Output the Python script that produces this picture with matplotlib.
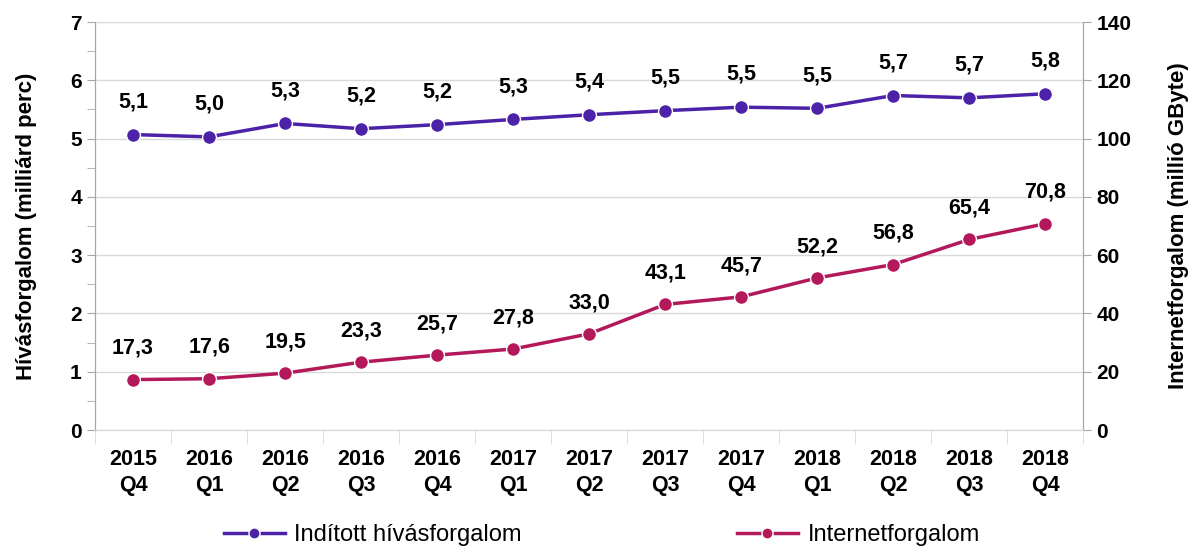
import numpy as np
import matplotlib
matplotlib.use('Agg')
import matplotlib.pyplot as plt
from matplotlib.ticker import MultipleLocator

plt.rcParams['font.family'] = ['Liberation Sans', 'DejaVu Sans']

quarters = ['2015\nQ4', '2016\nQ1', '2016\nQ2', '2016\nQ3', '2016\nQ4', '2017\nQ1', '2017\nQ2',
            '2017\nQ3', '2017\nQ4', '2018\nQ1', '2018\nQ2', '2018\nQ3', '2018\nQ4']
hivas = [5.07, 5.03, 5.26, 5.17, 5.24, 5.33, 5.41, 5.48, 5.54, 5.52, 5.74, 5.70, 5.77]
internet = [17.3, 17.6, 19.5, 23.3, 25.7, 27.8, 33.0, 43.1, 45.7, 52.2, 56.8, 65.4, 70.8]

purple = '#4B22A8'
magenta = '#B3195A'
grey = '#A6A6A6'

fig = plt.figure(figsize=(11.97, 5.52), dpi=100)
ax = fig.add_axes([0.0794, 0.221, 0.8256, 0.739])
ax2 = ax.twinx()

x = np.arange(len(quarters))
l1, = ax.plot(x, hivas, '-o', color=purple, lw=2.5, ms=10, markeredgecolor='white',
              markeredgewidth=1, label='Indított hívásforgalom', zorder=3)
l2, = ax2.plot(x, internet, '-o', color=magenta, lw=2.5, ms=10, markeredgecolor='white',
               markeredgewidth=1, label='Internetforgalom', zorder=3)

for xi, v in zip(x, hivas):
    ax.annotate(f'{v:.1f}'.replace('.', ','), (xi, v), xytext=(0, 16), textcoords='offset points',
                ha='center', va='bottom', fontsize=15.5, fontweight='bold')
for xi, v in zip(x, internet):
    ax2.annotate(f'{v:.1f}'.replace('.', ','), (xi, v), xytext=(0, 15), textcoords='offset points',
                 ha='center', va='bottom', fontsize=15.5, fontweight='bold')

ax.set_xlim(-0.5, len(quarters) - 0.5)
ax.set_ylim(0, 7)
ax2.set_ylim(0, 140)
ax.yaxis.set_major_locator(MultipleLocator(1))
ax.yaxis.set_minor_locator(MultipleLocator(0.5))
ax2.yaxis.set_major_locator(MultipleLocator(20))

ax.set_xticks(x)
ax.set_xticklabels(quarters, fontsize=15.5, fontweight='bold', linespacing=1.3)
ax.set_xticks(np.arange(-0.5, len(quarters), 1), minor=True)
ax.tick_params(axis='x', which='major', length=0, pad=14)
ax.tick_params(axis='x', which='minor', length=10, color='#D9D9D9', direction='out')
ax.tick_params(axis='y', which='both', length=6, color=grey)
ax2.tick_params(axis='y', length=6, color=grey)
for lab in ax.get_yticklabels() + ax2.get_yticklabels():
    lab.set_fontsize(15)
    lab.set_fontweight('bold')

ax.grid(axis='y', which='major', color='#D9D9D9', lw=1)
ax.set_axisbelow(True)
for a in (ax, ax2):
    a.spines['top'].set_visible(False)
    a.spines['left'].set_color(grey)
    a.spines['right'].set_color(grey)
    a.spines['bottom'].set_color('#D9D9D9')

ax.set_ylabel('Hívásforgalom (milliárd perc)', fontsize=16, fontweight='bold', labelpad=24)
ax2.set_ylabel('Internetforgalom (millió GByte)', fontsize=16, fontweight='bold', labelpad=26)

leg = fig.legend(handles=[l1, l2], loc='center left', bbox_to_anchor=(0.169, 0.031), ncol=2,
                 frameon=False, columnspacing=9.1, handlelength=2.6, handletextpad=0.4,
                 prop={'size': 17})
for h in leg.legend_handles:
    h.set_markersize(8)

fig.savefig('out.png', dpi=100)
